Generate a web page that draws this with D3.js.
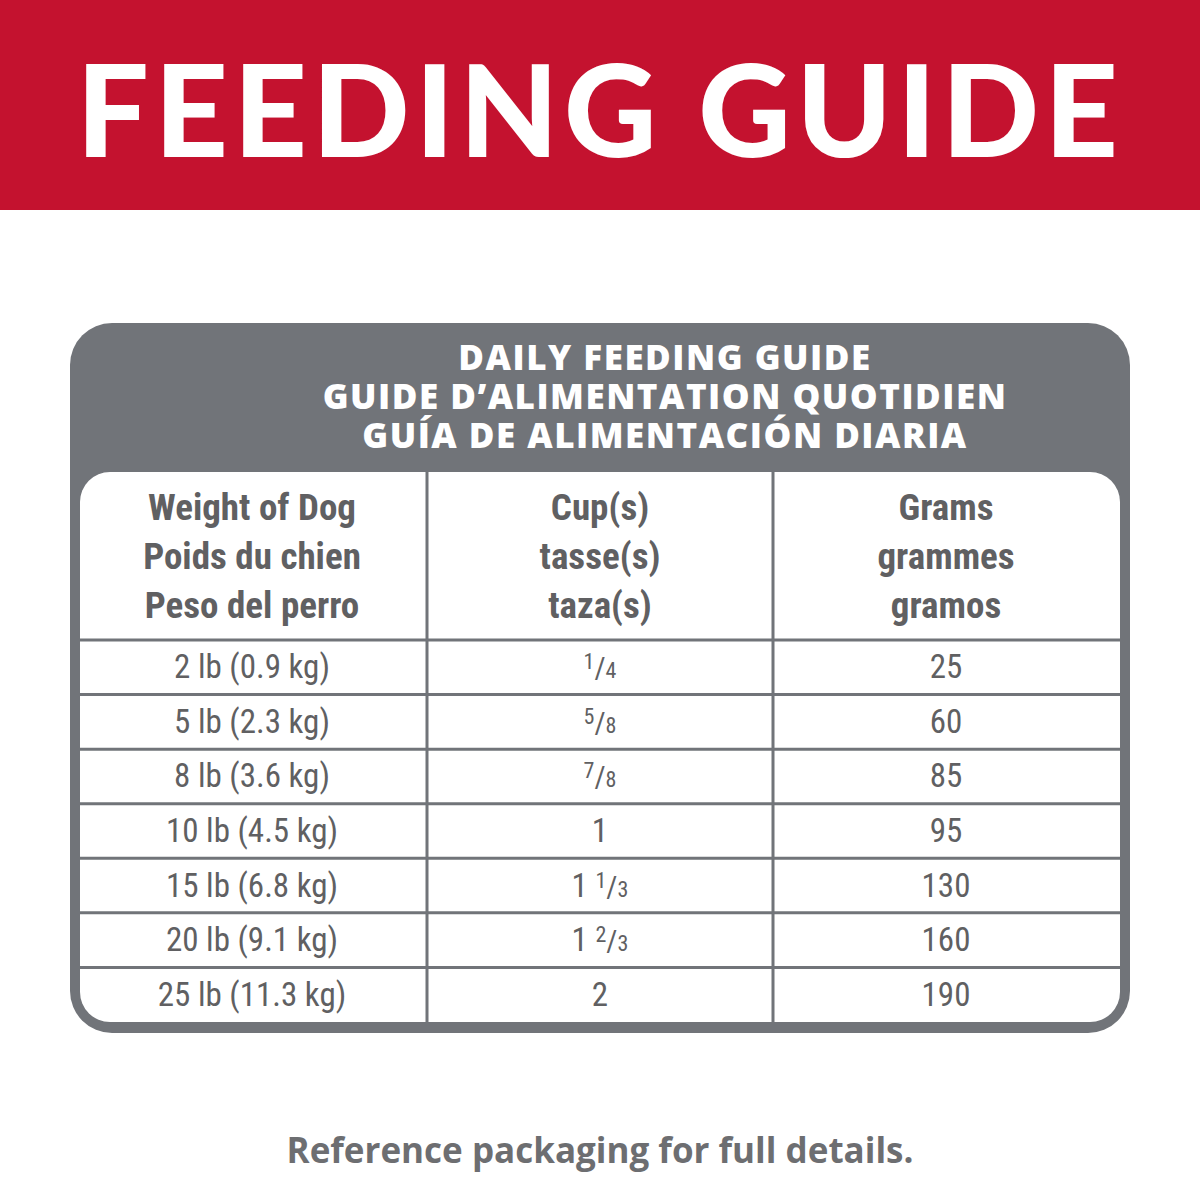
<!DOCTYPE html>
<html><head><meta charset="utf-8">
<script src="https://cdn.jsdelivr.net/npm/d3@7"></script>
<style>body{margin:0;background:#fff}</style></head>
<body><svg id="c" width="1200" height="1200"></svg>
<script>
const titleText = "FEEDING GUIDE";
const headerLines = ["DAILY FEEDING GUIDE","GUIDE D’ALIMENTATION QUOTIDIEN","GUÍA DE ALIMENTACIÓN DIARIA"];
const colHeaders = [["Weight of Dog","Poids du chien","Peso del perro"],["Cup(s)","tasse(s)","taza(s)"],["Grams","grammes","gramos"]];
const weights = ["2 lb (0.9 kg)","5 lb (2.3 kg)","8 lb (3.6 kg)","10 lb (4.5 kg)","15 lb (6.8 kg)","20 lb (9.1 kg)","25 lb (11.3 kg)"];
const cupWhole = ["","","","1","1","1","2"];
const cupFrac = [["1","4"],["5","8"],["7","8"],null,["1","3"],["2","3"],null];
const grams = [25,60,85,95,130,160,190];
const footer = "Reference packaging for full details.";

const svg = d3.select("#c");
const gray="#717479", txt="#606062";
svg.append("rect").attr("x",0).attr("y",0).attr("width",1200).attr("height",210).attr("fill","#c4122f");
svg.append("text").attr("x",600).attr("y",157).attr("text-anchor","middle").attr("fill","#fff")
  .attr("font-family","Lato, 'Open Sans', sans-serif").attr("font-weight",900).attr("font-size",128).attr("letter-spacing",5.5).text(titleText);

svg.append("rect").attr("x",70).attr("y",323).attr("width",1060).attr("height",710).attr("rx",42).attr("fill",gray);
headerLines.forEach((t,i)=>svg.append("text").attr("x",665).attr("y",370+i*39).attr("text-anchor","middle")
  .attr("fill","#fff").attr("font-family","'Open Sans', sans-serif").attr("font-weight",800).attr("font-size",35).attr("letter-spacing",1.5).text(t));
svg.append("rect").attr("x",80).attr("y",472).attr("width",1040).attr("height",550).attr("rx",30).attr("fill","#fff");

const x = d3.scaleOrdinal().domain([0,1,2]).range([252,600,946]);
const y = d3.scaleBand().domain(d3.range(weights.length)).range([640,1022]);
const narrow = "'Liberation Sans Narrow', 'Roboto Condensed', Roboto, sans-serif";
[427,773].forEach(v=>svg.append("line").attr("x1",v).attr("x2",v).attr("y1",472).attr("y2",1022).attr("stroke",gray).attr("stroke-width",3));
d3.range(weights.length).forEach(i=>svg.append("line").attr("x1",80).attr("x2",1120).attr("y1",y(i)).attr("y2",y(i)).attr("stroke",gray).attr("stroke-width",3));

colHeaders.forEach((lines,c)=>lines.forEach((t,j)=>svg.append("text").attr("x",x(c)).attr("y",520+j*49)
  .attr("text-anchor","middle").attr("fill",txt).attr("font-family",narrow).attr("font-weight",700).attr("font-size",37).text(t)));

const cell=(c,i)=>svg.append("text").attr("x",x(c)).attr("y",y(i)+y.bandwidth()/2+11).attr("text-anchor","middle")
  .attr("fill",txt).attr("font-family",narrow).attr("font-size",33);
weights.forEach((w,i)=>cell(0,i).text(w));
grams.forEach((g,i)=>cell(2,i).text(g));
cupWhole.forEach((w,i)=>{
  const t=cell(1,i);
  if(w) t.append("tspan").text(w + (cupFrac[i]?" ":""));
  if(cupFrac[i]){
    t.append("tspan").attr("font-size",22).attr("dy",-9).text(cupFrac[i][0]);
    t.append("tspan").attr("font-size",30).attr("dy",9).text("/");
    t.append("tspan").attr("font-size",22).text(cupFrac[i][1]);
  }
});
svg.append("text").attr("x",600).attr("y",1163).attr("text-anchor","middle").attr("fill","#6d6e71")
  .attr("font-family","'Open Sans', sans-serif").attr("font-weight",700).attr("font-size",35).text(footer);
</script></body></html>
